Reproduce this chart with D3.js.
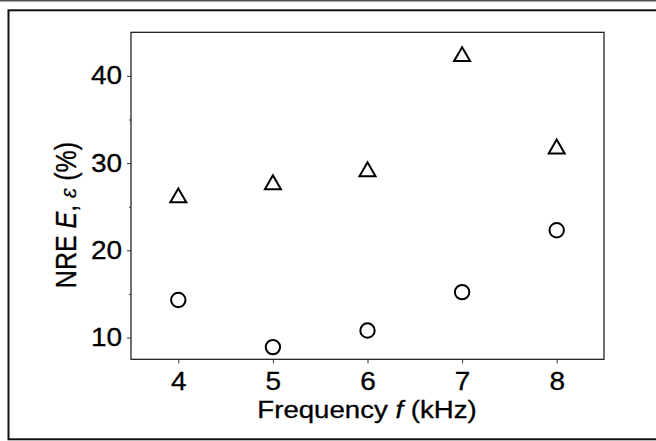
<!DOCTYPE html>
<html>
<head>
<meta charset="utf-8">
<script src="https://cdn.jsdelivr.net/npm/d3@7"></script>
<style>
  body { margin: 0; background: #fff; }
  text { font-family: "Liberation Sans", Arial, sans-serif; fill: #000; stroke: #000; stroke-width: 0.3px; }
</style>
</head>
<body>
<div id="chart"></div>
<script>
// Data
const frequency = [4, 5, 6, 7, 8];
const nreValues = [26.3, 27.8, 29.3, 42.5, 31.9];   // triangles
const epsValues = [14.3, 8.9, 10.8, 15.2, 22.3];    // circles
const yMajorTicks = [10, 20, 30, 40];
const yMinorTicks = [15, 25, 35];
const xTicks = [4, 5, 6, 7, 8];

const W = 656, H = 441;
const stretch = 1.12; // text in the reference is a bit wide

let svg = d3.select("#chart").append("svg")
    .attr("width", W)
    .attr("height", H);

svg.append("rect").attr("width", W).attr("height", H).attr("fill", "#fff");

// outer frame
svg.append("line")
    .attr("x1", 0).attr("x2", W).attr("y1", 0.8).attr("y2", 0.8)
    .attr("stroke", "#555").attr("stroke-width", 1.5);
svg.append("rect")
    .attr("x", 8.5).attr("y", 10.3)
    .attr("width", 700).attr("height", 429)
    .attr("fill", "none")
    .attr("stroke", "#111")
    .attr("stroke-width", 2);

// scales
let x = d3.scaleLinear().domain([3.5, 8.5]).range([131, 604]);
let y = d3.scaleLinear().domain([7.5, 45]).range([359.3, 32.3]);

// plot box
svg.append("rect")
    .attr("x", x(3.5)).attr("y", y(45))
    .attr("width", x(8.5) - x(3.5))
    .attr("height", y(7.5) - y(45))
    .attr("fill", "none")
    .attr("stroke", "#111")
    .attr("stroke-width", 1.2);

// y axis
let yAxis = svg.append("g")
    .attr("transform", `translate(${x(3.5)},0)`)
    .call(d3.axisLeft(y).tickValues(yMajorTicks).tickSize(4).tickPadding(4).tickFormat(d3.format("d")));
yAxis.select(".domain").remove();
yAxis.selectAll("line").attr("stroke", "#333");
yAxis.selectAll("text")
    .attr("font-size", 25)
    .attr("font-family", "Liberation Sans, Arial, sans-serif")
    .attr("transform", `scale(${stretch},1)`);

let yMinor = svg.append("g")
    .attr("transform", `translate(${x(3.5)},0)`)
    .call(d3.axisLeft(y).tickValues(yMinorTicks).tickSize(2).tickFormat(""));
yMinor.select(".domain").remove();
yMinor.selectAll("line").attr("stroke", "#333");

// x axis
let xAxis = svg.append("g")
    .attr("transform", `translate(0,${y(7.5)})`)
    .call(d3.axisBottom(x).tickValues(xTicks).tickSize(4).tickPadding(8.5).tickFormat(d3.format("d")));
xAxis.select(".domain").remove();
xAxis.selectAll("line").attr("stroke", "#333");
xAxis.selectAll("text")
    .attr("font-size", 25)
    .attr("font-family", "Liberation Sans, Arial, sans-serif")
    .attr("transform", `scale(${stretch},1)`);

// axis titles
let xTitle = svg.append("text")
    .attr("text-anchor", "middle")
    .attr("font-size", 24)
    .attr("transform", `translate(367,418) scale(1.15,1)`);
xTitle.append("tspan").text("Frequency ");
xTitle.append("tspan").attr("font-style", "italic").text("f");
xTitle.append("tspan").text(" (kHz)");

let yTitle = svg.append("text")
    .attr("text-anchor", "middle")
    .attr("font-size", 25)
    .attr("transform", `translate(76,215) rotate(-90) scale(1,1.15)`);
yTitle.append("tspan").text("NRE ");
yTitle.append("tspan").attr("font-style", "italic").text("E");
yTitle.append("tspan").text(", ");
yTitle.append("tspan").attr("font-style", "italic").attr("font-size", 19)
    .attr("font-family", "DejaVu Serif, serif").text("ε");
yTitle.append("tspan").text(" (%)");

// markers
function trianglePath(s) {
    let h = s * Math.sqrt(3) / 2;
    return `M0,${-h / 2}L${s / 2},${h / 2}L${-s / 2},${h / 2}Z`;
}

svg.append("g").selectAll("path")
    .data(frequency)
    .join("path")
    .attr("d", trianglePath(16))
    .attr("transform", (d, i) => `translate(${x(d)},${y(nreValues[i])})`)
    .attr("fill", "none")
    .attr("stroke", "#000")
    .attr("stroke-width", 2);

svg.append("g").selectAll("circle")
    .data(frequency)
    .join("circle")
    .attr("cx", d => x(d))
    .attr("cy", (d, i) => y(epsValues[i]))
    .attr("r", 7.2)
    .attr("fill", "none")
    .attr("stroke", "#000")
    .attr("stroke-width", 2);
</script>
</body>
</html>
